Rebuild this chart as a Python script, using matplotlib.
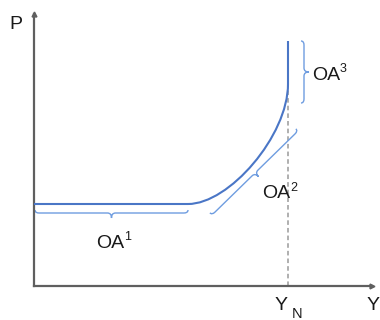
import numpy as np
import matplotlib
matplotlib.use("Agg")
import matplotlib.pyplot as plt
from matplotlib.path import Path
from matplotlib.patches import PathPatch

plt.rcParams['font.family'] = ['Liberation Sans', 'DejaVu Sans']

# Aggregate supply curve: flat segment, bend (cubic Bezier controls), vertical at Y_N
as_x = [0, 154, 195, 254, 254, 254]
as_p = [82, 82, 82, 150, 202, 245]
as_codes = [Path.MOVETO, Path.LINETO, Path.CURVE4, Path.CURVE4, Path.CURVE4, Path.LINETO]

# Potential output and the height of its guide line
y_n = 254
y_n_top = 203

# Brace spans (start point, end point); tip points to the right of travel direction
brace_names = ["1", "2", "3"]
brace_start = [(1, 73), (178, 71), (270, 183)]
brace_end = [(154, 73), (264, 155), (270, 245)]

CURVE_COLOR = "#4a76c6"
BRACE_COLOR = "#6f9de0"
AXIS_COLOR = "#5f5f5f"
TEXT_COLOR = "#1a1a1a"

fig = plt.figure(figsize=(3.8, 3.2), dpi=100)
ax = fig.add_axes([34 / 380, 34 / 320, 338 / 380, 272 / 320])
ax.set_xlim(0, 338)
ax.set_ylim(0, 272)

for s in ("top", "right"):
    ax.spines[s].set_visible(False)
for s in ("left", "bottom"):
    ax.spines[s].set_color(AXIS_COLOR)
    ax.spines[s].set_linewidth(1.6)
ax.set_xticks([])
ax.set_yticks([])
ax.plot(0, 272, marker="^", ms=3.5, color=AXIS_COLOR, clip_on=False)
ax.plot(338, 0, marker=">", ms=3.5, color=AXIS_COLOR, clip_on=False)

# Guide line at potential output
ax.plot([y_n, y_n], [0, y_n_top], ls=(0, (3, 2)), color="#9a9a9a", lw=1.1, zorder=1)

# Aggregate supply curve
curve = Path(list(zip(as_x, as_p)), as_codes)
ax.add_patch(PathPatch(curve, fill=False, edgecolor=CURVE_COLOR, lw=1.5,
                       capstyle="butt", zorder=3))


def brace(p0, p1, hook=3.0, rad=4.0, tip=5.0):
    p0 = np.asarray(p0, float)
    p1 = np.asarray(p1, float)
    L = np.linalg.norm(p1 - p0)
    d = (p1 - p0) / L
    n = np.array([d[1], -d[0]])
    m = L / 2
    local = [(0, -hook), (0, 0), (rad, 0), (m - rad, 0), (m, 0), (m, tip),
             (m, 0), (m + rad, 0), (L - rad, 0), (L, 0), (L, -hook)]
    codes = [Path.MOVETO, Path.CURVE3, Path.CURVE3, Path.LINETO, Path.CURVE3,
             Path.CURVE3, Path.CURVE3, Path.CURVE3, Path.LINETO, Path.CURVE3,
             Path.CURVE3]
    verts = [p0 + u * d + v * n for u, v in local]
    return Path(verts, codes)


for a, b in zip(brace_start, brace_end):
    ax.add_patch(PathPatch(brace(a, b), fill=False, edgecolor=BRACE_COLOR,
                           lw=1.0, zorder=2))

# Segment labels
label_pos = [(62.5, 38.5), (228.5, 88), (278.5, 205.5)]
sup_pos = [(90.5, 46), (256, 95), (306, 213.5)]
for name, (lx, ly), (sx, sy) in zip(brace_names, label_pos, sup_pos):
    ax.text(lx, ly, "OA", fontsize=14, color=TEXT_COLOR, ha="left", va="baseline")
    ax.text(sx, sy, name, fontsize=9, color=TEXT_COLOR, ha="left", va="baseline")

# Axis labels
ax.text(-25, 257, "P", fontsize=14, color=TEXT_COLOR, ha="left", va="baseline")
ax.text(333, -24, "Y", fontsize=14, color=TEXT_COLOR, ha="left", va="baseline")
ax.text(241, -24, "Y", fontsize=14, color=TEXT_COLOR, ha="left", va="baseline")
ax.text(258, -31.5, "N", fontsize=10.5, color=TEXT_COLOR, ha="left", va="baseline")

fig.savefig("out.png", dpi=100)
